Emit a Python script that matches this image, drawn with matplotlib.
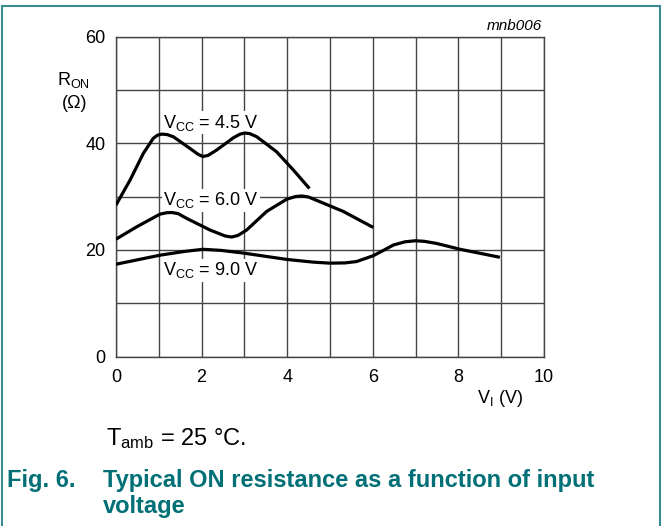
import matplotlib
matplotlib.use("Agg")
import matplotlib.pyplot as plt
from matplotlib.lines import Line2D

plt.rcParams['font.family'] = ['Liberation Sans', 'DejaVu Sans']
plt.rcParams['mathtext.fontset'] = 'custom'
plt.rcParams['mathtext.rm'] = 'Liberation Sans'
plt.rcParams['mathtext.it'] = 'Liberation Sans:italic'
plt.rcParams['mathtext.bf'] = 'Liberation Sans:bold'

# ---------------------------------------------------------------------------
# data
vi_45 = [0.0, 0.33, 0.64, 0.87, 0.97, 1.07, 1.20, 1.34, 1.73, 1.92, 2.03, 2.15, 2.35, 2.74,
         2.90, 3.01, 3.12, 3.29, 3.75, 4.14, 4.52]
ron_45 = [28.4, 33.1, 38.1, 40.9, 41.5, 41.7, 41.6, 41.2, 39.0, 37.9, 37.5, 37.7, 38.7, 41.0,
          41.7, 41.9, 41.8, 41.2, 38.4, 35.0, 31.5]

vi_60 = [0.0, 0.48, 1.03, 1.18, 1.30, 1.45, 1.65, 2.20, 2.55, 2.70, 2.85, 3.05, 3.52, 3.99,
         4.20, 4.34, 4.50, 4.77, 5.31, 6.01]
ron_60 = [22.0, 24.3, 26.7, 26.95, 27.0, 26.8, 25.9, 23.7, 22.6, 22.4, 22.7, 23.7, 27.2, 29.5,
          30.0, 30.1, 29.9, 29.0, 27.2, 24.2]

vi_90 = [0.0, 1.03, 1.60, 2.03, 2.45, 2.97, 3.99, 4.60, 5.0, 5.35, 5.62, 6.01, 6.25, 6.48,
         6.75, 6.99, 7.20, 7.49, 8.04, 8.97]
ron_90 = [17.3, 19.0, 19.7, 20.1, 19.9, 19.4, 18.2, 17.7, 17.5, 17.55, 17.8, 18.9, 19.9, 20.9,
          21.5, 21.7, 21.6, 21.2, 20.1, 18.6]

curve_labels = ['4.5', '6.0', '9.0']
label_pos = [(1.1, 43.8), (1.1, 29.3), (1.1, 16.2)]

x_ticks = [0, 2, 4, 6, 8, 10]
y_ticks = [0, 20, 40, 60]

W, H = 662, 526
teal = '#006F76'
frame = '#3A8C92'
gridc = '#444444'

fig = plt.figure(figsize=(W / 100, H / 100), dpi=100)
fig.patch.set_facecolor('white')


def fy(py):
    return 1 - py / H


# axes placed by pixel box
x0, x1, ytop, ybot = 116, 544, 36.5, 356.5
ax = fig.add_axes([x0 / W, fy(ybot), (x1 - x0) / W, (ybot - ytop) / H])
ax.set_xlim(0, 10)
ax.set_ylim(0, 60)
ax.set_xticks(range(0, 11), minor=True)
ax.set_yticks(range(0, 61, 10), minor=True)
ax.set_xticks(x_ticks)
ax.set_yticks(y_ticks)
ax.grid(True, which='both', color=gridc, lw=1.0, zorder=0)
ax.set_axisbelow(True)
ax.tick_params(which='both', length=0, labelsize=13)
ax.tick_params(axis='x', pad=9)
ax.tick_params(axis='y', pad=7.5)
for s in ax.spines.values():
    s.set_color(gridc)
    s.set_linewidth(1.0)

for xs, ys in [(vi_45, ron_45), (vi_60, ron_60), (vi_90, ron_90)]:
    ax.plot(xs, ys, color='black', lw=2.3, solid_capstyle='butt', solid_joinstyle='round',
            zorder=4)

for lab, (lx, ly) in zip(curve_labels, label_pos):
    ax.text(lx, ly, r'V$_{\rm CC}$ = ' + lab + ' V', fontsize=13, ha='left', va='center',
            zorder=3, bbox=dict(facecolor='white', edgecolor='none', pad=1.0))

# axis titles
fig.text(73.5 / W, fy(85), r'R$_{\rm ON}$', fontsize=13, ha='center', va='baseline')
fig.text(74.5 / W, fy(108), '(\u03a9)', fontsize=13, ha='center', va='baseline')
fig.text(500 / W, fy(403), r'V$_{\rm I}$ (V)', fontsize=13, ha='center', va='baseline')
fig.text(542 / W, fy(29.5), 'mnb006', fontsize=11, style='italic', ha='right', va='baseline')

# note and caption
fig.text(106 / W, fy(445), r'T$_{\rm amb}$ = 25 °C.', fontsize=17, ha='left', va='baseline')
fig.text(7 / W, fy(487), 'Fig. 6.', fontsize=17, fontweight='bold', color=teal,
         ha='left', va='baseline')
fig.text(103 / W, fy(487), 'Typical ON resistance as a function of input', fontsize=17,
         fontweight='bold', color=teal, ha='left', va='baseline')
fig.text(103 / W, fy(513), 'voltage', fontsize=17, fontweight='bold', color=teal,
         ha='left', va='baseline')

# outer frame
fl, fr, ft = 1.5 / W, 659.5 / W, fy(5.5)
for xs, ys in [([fl, fl], [0, ft]), ([fr, fr], [0, ft]), ([fl, fr], [ft, ft])]:
    fig.add_artist(Line2D(xs, ys, color=frame, lw=1.5, transform=fig.transFigure))

fig.savefig('out.png', dpi=100)
